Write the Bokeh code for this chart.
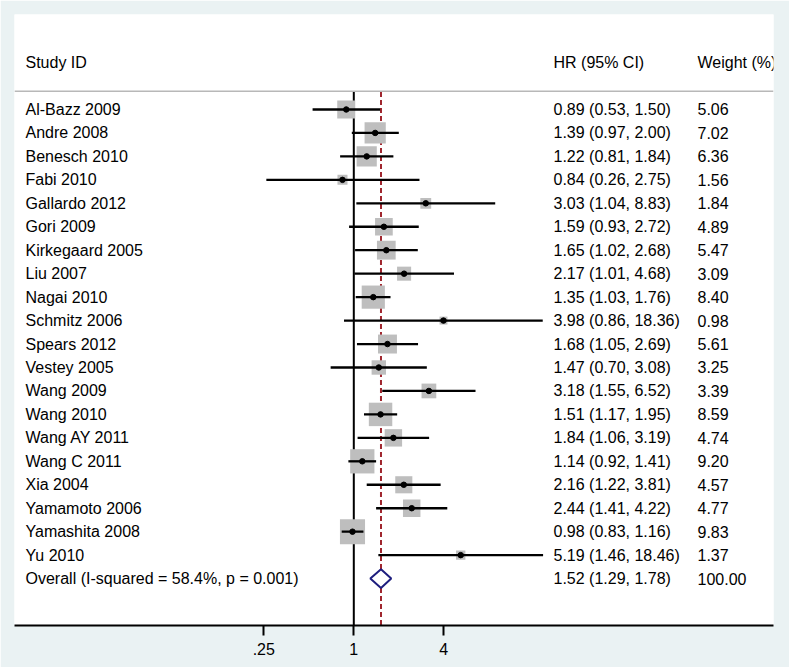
import math
from bokeh.plotting import figure
from bokeh.models import Range1d, FixedTicker, ColumnDataSource, InlineStyleSheet
from bokeh.embed import file_html
from bokeh.resources import INLINE
from bokeh.core.properties import value

# ---------------- data ----------------
studies = ["Al-Bazz 2009", "Andre 2008", "Benesch 2010", "Fabi 2010", "Gallardo 2012",
           "Gori 2009", "Kirkegaard 2005", "Liu 2007", "Nagai 2010", "Schmitz 2006",
           "Spears 2012", "Vestey 2005", "Wang 2009", "Wang 2010", "Wang AY 2011",
           "Wang C 2011", "Xia 2004", "Yamamoto 2006", "Yamashita 2008", "Yu 2010"]
hr = [0.89, 1.39, 1.22, 0.84, 3.03, 1.59, 1.65, 2.17, 1.35, 3.98,
      1.68, 1.47, 3.18, 1.51, 1.84, 1.14, 2.16, 2.44, 0.98, 5.19]
ci_low = [0.53, 0.97, 0.81, 0.26, 1.04, 0.93, 1.02, 1.01, 1.03, 0.86,
          1.05, 0.70, 1.55, 1.17, 1.06, 0.92, 1.22, 1.41, 0.83, 1.46]
ci_high = [1.50, 2.00, 1.84, 2.75, 8.83, 2.72, 2.68, 4.68, 1.76, 18.36,
           2.69, 3.08, 6.52, 1.95, 3.19, 1.41, 3.81, 4.22, 1.16, 18.46]
weights = [5.06, 7.02, 6.36, 1.56, 1.84, 4.89, 5.47, 3.09, 8.40, 0.98,
           5.61, 3.25, 3.39, 8.59, 4.74, 9.20, 4.57, 4.77, 9.83, 1.37]
overall_hr = 1.52
overall_low = 1.29
overall_high = 1.78
overall_weight = 100.00
i_squared = 58.4
p_value = 0.001
x_ticks = [0.25, 1, 4]
x_tick_labels = [".25", "1", "4"]
headers = ["Study ID", "HR (95% CI)", "Weight (%)"]

# ---------------- layout helpers ----------------
FONT = "Liberation Sans"
FS = "16px"
BG = "#EAF2F3"

FRAME_L, FRAME_R = 14, 773       # page px of white plot area
ONE_PX, PX_PER_LOG2 = 353.3, 45.0  # page px of HR = 1, px per doubling


def hr_at(px):
    return 2 ** ((px - ONE_PX) / PX_PER_LOG2)


n = len(studies)
ys = [-i for i in range(n)]
y_overall = -n
y_header = 2.0
y_rule = 0.78
y_bottom = -22.0
y_top = 4.05

p = figure(x_axis_type="log", x_range=Range1d(hr_at(FRAME_L), hr_at(FRAME_R)),
           y_range=Range1d(y_bottom, y_top),
           frame_width=FRAME_R - FRAME_L, frame_height=611,
           min_border_left=14, min_border_top=14, min_border_right=16, min_border_bottom=42,
           output_backend="svg", toolbar_location=None, y_axis_location=None)
p.stylesheets = [InlineStyleSheet(css=":host { position: absolute !important; left: 0 !important; top: 0 !important; }")]
p.border_fill_color = BG
p.background_fill_color = "white"
p.outline_line_color = None
p.xgrid.visible = False
p.ygrid.visible = False

ax = p.xaxis[0]
ax.ticker = FixedTicker(ticks=x_ticks, minor_ticks=[])
ax.major_label_overrides = {t: lab for t, lab in zip(x_ticks, x_tick_labels)}
ax.axis_line_color = "black"
ax.axis_line_width = 2
ax.major_tick_line_color = "black"
ax.major_tick_line_width = 2
ax.major_tick_out = 10
ax.major_tick_in = 0
ax.minor_tick_out = 0
ax.minor_tick_in = 0
ax.major_label_text_font = FONT
ax.major_label_text_font_size = FS
ax.major_label_text_color = "black"
ax.major_label_standoff = 7

# header rule
p.segment(x0=[hr_at(FRAME_L)], x1=[hr_at(FRAME_R)], y0=[y_rule], y1=[y_rule],
          line_color="#B8B8B8", line_width=1.5)
# null line and overall line
p.segment(x0=[1], x1=[1], y0=[y_rule - 0.03], y1=[y_bottom], line_color="black", line_width=2)
p.segment(x0=[overall_hr], x1=[overall_hr], y0=[y_rule - 0.03], y1=[y_bottom],
          line_color="#A0262E", line_width=2, line_dash="5 3")

src = ColumnDataSource(dict(
    y=ys, hr=hr, lo=ci_low, hi=ci_high,
    size=[8.0 * math.sqrt(w) for w in weights],
))
p.scatter(x="hr", y="y", size="size", marker="square", source=src,
          fill_color="#BEBEBE", line_color=None)
p.segment(x0="lo", x1="hi", y0="y", y1="y", source=src, line_color="black", line_width=2.3)
p.scatter(x="hr", y="y", size=5.5, marker="circle", source=src,
          fill_color="black", line_color="black")

# overall diamond
p.patch(x=[overall_low, overall_hr, overall_high, overall_hr],
        y=[y_overall, y_overall + 0.4, y_overall, y_overall - 0.4],
        fill_color="white", line_color="#1E1E7E", line_width=2)

# texts
col_study = hr_at(25)
col_hr = hr_at(553)
col_w = hr_at(697)

labels = studies + ["Overall  (I-squared = %.1f%%, p = %.3f)" % (i_squared, p_value)]
hr_texts = ["%.2f (%.2f, %.2f)" % (a, b, c) for a, b, c in zip(hr, ci_low, ci_high)]
hr_texts.append("%.2f (%.2f, %.2f)" % (overall_hr, overall_low, overall_high))
w_texts = ["%.2f" % w for w in weights] + ["%.2f" % overall_weight]
row_y = ys + [y_overall]

tsrc = ColumnDataSource(dict(
    x=[col_study] * len(labels) + [col_hr] * len(labels) + [col_w] * len(labels)
      + [col_study, col_hr, col_w],
    y=row_y * 3 + [y_header] * 3,
    t=labels + hr_texts + w_texts + headers,
))
p.text(x="x", y="y", text="t", source=tsrc, text_font=value(FONT), text_font_size=FS,
       text_color="black", text_baseline="middle", text_align="left")

open("out.html", "w").write(file_html(p, INLINE))
